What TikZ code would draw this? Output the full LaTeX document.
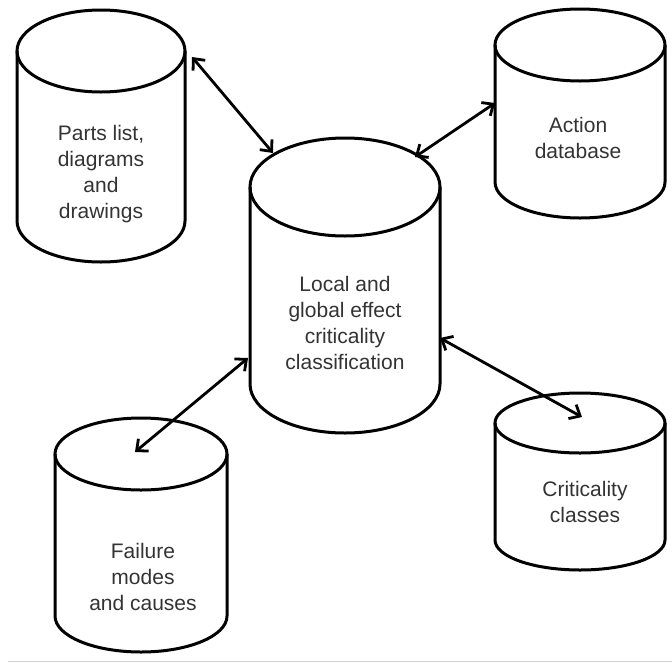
\documentclass[tikz,border=0pt]{standalone}
\usepackage{fontspec}
\setmainfont{Liberation Sans}
\usetikzlibrary{arrows.meta}

\tikzset{
  canline/.style={draw, line width=3pt},
  pics/dbcan/.style args={#1/#2/#3}{code={
    % side walls and bottom rim
    \draw[canline] (-#1,0) -- (-#1,#3) arc[start angle=180, end angle=0, x radius=#1, y radius=#2] -- (#1,0);
    % top lid
    \draw[canline] (0,0) ellipse[x radius=#1, y radius=#2];
  }},
  cantext/.style={align=center, text=black!80, font=\fontsize{21}{26}\selectfont},
  link/.style={line width=2.8pt, {Straight Barb[length=9pt,width=16pt]}-{Straight Barb[length=9pt,width=16pt]}}
}

\begin{document}
\begin{tikzpicture}[x=1pt, y=-1pt]
    \useasboundingbox (0,0) rectangle (672,662);

    % Databases (top lid centre; x radius / y radius / wall height)
    \pic (parts) at (101,51) {dbcan=84/41/170};
    \pic (local) at (345,187) {dbcan=95/49/197};
    \pic (action) at (580,45) {dbcan=85/36/137};
    \pic (crit) at (580,423) {dbcan=85/30/117};
    \pic (fail) at (141,454) {dbcan=86/36/162};

    % Texts
    \node[cantext] (partstxt) at (101,174) {Parts list,\\diagrams\\and\\drawings};
    \node[cantext] (localtxt) at (345,323) {Local and\\global effect\\criticality\\classification};
    \node[cantext] (actiontxt) at (578,138) {Action\\database};
    \node[cantext] (crittxt) at (585,502) {Criticality\\classes};
    \node[cantext] (failtxt) at (143,577) {Failure\\modes\\and causes};

    % Arrow ends
    \coordinate (parts-e) at (192,57);
    \coordinate (local-nw) at (273,153);
    \coordinate (action-w) at (495,103);
    \coordinate (local-ne) at (415,157);
    \coordinate (local-w) at (248,358);
    \coordinate (fail-n) at (135,452);
    \coordinate (local-e) at (440,338);
    \coordinate (crit-n) at (582,417);

    % Arrows
    \draw[link] (parts-e) -- (local-nw);
    \draw[link] (action-w) -- (local-ne);
    \draw[link] (local-w) -- (fail-n);
    \draw[link] (local-e) -- (crit-n);

    % Bottom rule
    \draw[gray!35, line width=1pt] (8,661) -- (672,661);
\end{tikzpicture}
\end{document}
